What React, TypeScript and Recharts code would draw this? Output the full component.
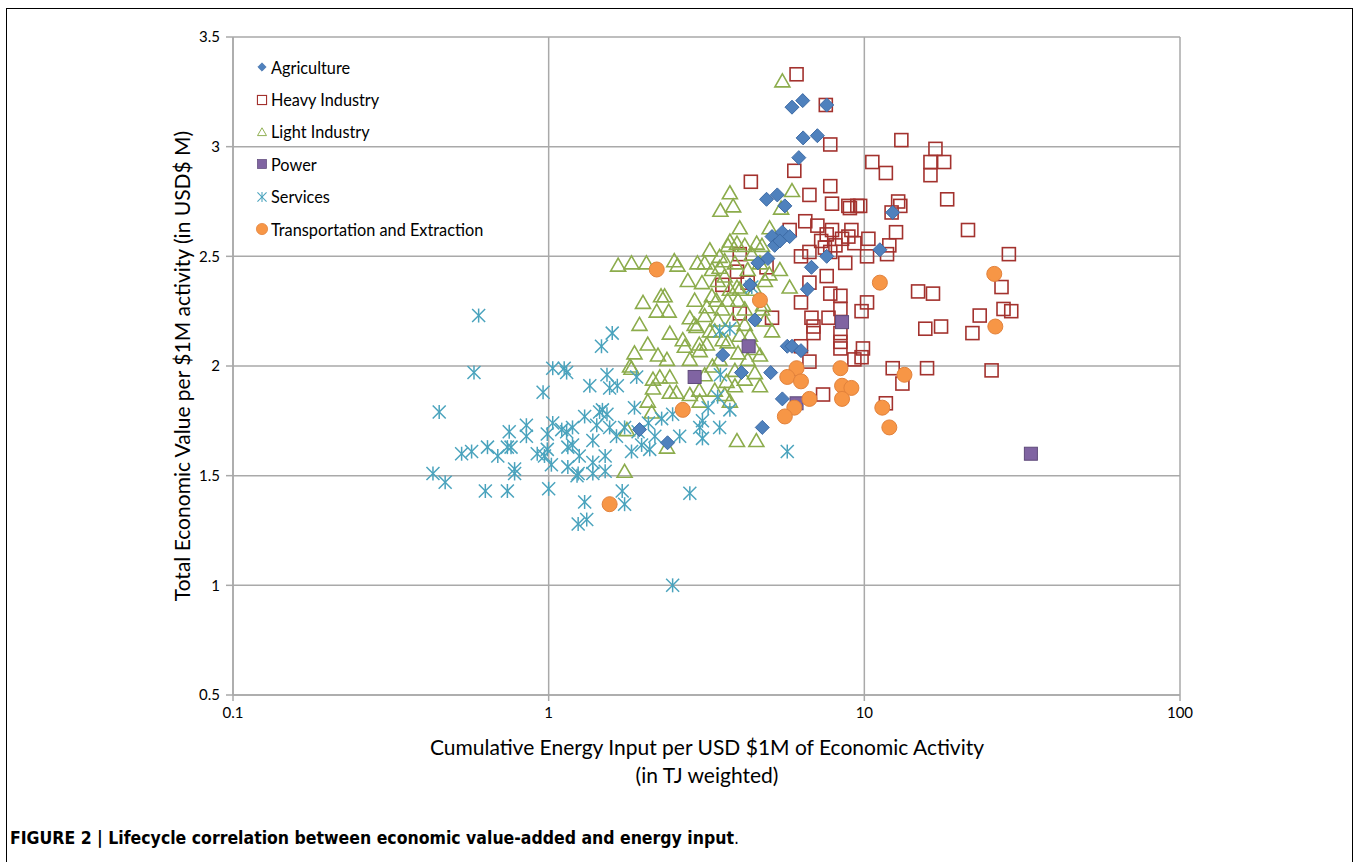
import React from 'react';
import { ScatterChart, Scatter, XAxis, YAxis, CartesianGrid } from 'recharts';

// values: [energy input (TJ), economic value (USD M)]
const agriculture: [number, number][] = [
  [6.38, 3.21], [5.9, 3.18], [7.6, 3.19], [6.4, 3.04], [7.1, 3.05], [6.2, 2.95], [4.9, 2.76], [5.3, 2.78],
  [5.6, 2.73], [12.3, 2.7], [5.1, 2.59], [5.5, 2.61], [5.8, 2.59], [5.2, 2.55], [4.95, 2.49], [5.4, 2.57],
  [11.2, 2.53], [7.6, 2.5], [6.8, 2.45], [4.34, 2.37], [6.6, 2.35], [4.5, 2.21], [5.7, 2.09], [5.9, 2.09],
  [6.3, 2.07], [3.56, 2.05], [4.08, 1.97], [5.05, 1.97], [5.5, 1.85], [4.75, 1.72], [2.38, 1.65], [1.94, 1.71],
  [4.6, 2.47],
];

const heavyIndustry: [number, number][] = [
  [6.1, 3.33], [7.55, 3.19], [13.1, 3.03], [16.8, 2.99], [10.6, 2.93], [11.7, 2.88], [16.2, 2.93], [17.9, 2.93],
  [16.2, 2.87], [18.3, 2.76], [12.8, 2.75], [13.0, 2.73], [12.2, 2.7], [21.3, 2.62], [12.6, 2.61], [28.7, 2.51],
  [27.2, 2.36], [14.8, 2.34], [16.5, 2.33], [8.9, 2.73], [9.7, 2.73], [9.1, 2.62], [10.3, 2.58], [10.2, 2.5],
  [11.8, 2.51], [23.2, 2.23], [27.6, 2.26], [29.2, 2.25], [15.6, 2.17], [17.5, 2.18], [22.0, 2.15], [12.3, 1.99],
  [15.8, 1.99], [25.3, 1.98], [13.2, 1.92], [11.7, 1.83], [6.0, 2.89], [4.37, 2.84], [6.7, 2.78], [7.8, 2.82],
  [7.9, 2.74], [9.0, 2.72], [6.5, 2.66], [7.1, 2.64], [7.9, 2.62], [7.3, 2.57], [8.5, 2.58], [6.7, 2.52],
  [7.8, 2.52], [8.7, 2.47], [6.3, 2.5], [4.03, 2.51], [4.27, 2.38], [4.9, 2.45], [6.7, 2.38], [7.6, 2.41],
  [7.8, 2.33], [8.4, 2.32], [6.3, 2.29], [6.8, 2.22], [7.7, 2.22], [8.4, 2.26], [10.2, 2.29], [9.8, 2.25],
  [6.9, 2.18], [6.9, 2.15], [8.4, 2.15], [8.4, 2.11], [8.4, 2.08], [6.3, 2.09], [9.9, 2.08], [9.8, 2.04],
  [9.3, 2.03], [6.7, 2.02], [5.1, 2.22], [4.03, 2.24], [7.4, 1.87], [3.55, 2.37], [3.95, 2.43], [7.6, 2.6],
  [8.1, 2.55], [5.8, 2.62], [9.3, 2.56], [8.9, 2.59], [12.0, 2.55], [7.5, 2.54], [9.5, 2.73], [7.8, 3.01],
];

const lightIndustry: [number, number][] = [
  [5.5, 3.3], [5.9, 2.8], [3.75, 2.79], [3.5, 2.71], [3.84, 2.73], [5.45, 2.72], [1.83, 2.47], [2.04, 2.47],
  [2.5, 2.48], [2.56, 2.46], [2.96, 2.47], [1.66, 2.46], [2.33, 2.32], [1.99, 2.29], [2.2, 2.25], [2.4, 2.25],
  [1.94, 2.19], [2.42, 2.15], [2.06, 2.1], [2.22, 2.05], [1.87, 2.06], [1.81, 2.0], [2.37, 2.03], [2.7, 2.09],
  [2.8, 2.22], [2.94, 2.18], [3.17, 2.27], [3.24, 2.16], [3.56, 2.12], [3.7, 2.55], [3.95, 2.56], [4.56, 2.56],
  [3.48, 2.45], [3.95, 2.36], [3.4, 2.3], [3.0, 2.1], [3.3, 2.0], [2.25, 1.95], [2.42, 1.95], [2.14, 1.94],
  [2.54, 1.88], [3.0, 1.89], [3.66, 1.93], [4.67, 1.91], [5.0, 2.42], [5.4, 2.44], [5.8, 2.36], [4.78, 2.28],
  [5.1, 2.16], [1.83, 1.99], [2.14, 1.9], [2.42, 1.88], [2.06, 1.84], [2.12, 1.79], [1.77, 1.71], [2.37, 1.63],
  [1.74, 1.52], [3.95, 1.66], [4.55, 1.66], [3.75, 1.84], [2.27, 2.32], [3.12, 2.47], [3.29, 2.44], [3.43, 2.39],
  [3.61, 2.41], [3.75, 2.35], [3.98, 2.3], [4.18, 2.26], [3.29, 2.32], [3.54, 2.26], [3.82, 2.21], [4.18, 2.19],
  [4.34, 2.14], [3.12, 2.23], [3.36, 2.16], [3.69, 2.11], [3.98, 2.06], [4.27, 2.03], [4.5, 2.08], [4.74, 2.26],
  [4.84, 2.21], [3.06, 2.38], [2.9, 2.3], [2.76, 2.39], [3.24, 2.53], [3.48, 2.5], [3.89, 2.47], [4.27, 2.44],
  [4.4, 2.51], [4.74, 2.55], [5.01, 2.63], [4.03, 2.63], [3.75, 2.57], [2.66, 2.12], [2.8, 2.03], [3.12, 1.96],
  [3.48, 2.03], [3.89, 1.98], [4.5, 1.97], [3.89, 1.91], [3.61, 1.87], [3.36, 1.89], [3.01, 1.84], [3.69, 2.3],
  [4.03, 2.35], [3.43, 2.21], [4.03, 2.14], [4.5, 2.35], [4.84, 2.39], [4.18, 2.55], [4.67, 2.47], [3.61, 2.48],
  [2.9, 2.19], [3.17, 2.1], [4.18, 1.94], [4.67, 2.05], [2.8, 1.87], [3.01, 2.07],
];

const power: [number, number][] = [
  [2.9, 1.95], [4.3, 2.09], [8.5, 2.2], [6.1, 1.83], [33.7, 1.6],
];

const services: [number, number][] = [
  [0.6, 2.23], [0.58, 1.97], [0.45, 1.79], [1.03, 1.99], [1.12, 1.99], [1.14, 1.97], [0.96, 1.88], [1.35, 1.91],
  [1.53, 1.96], [1.56, 1.9], [1.59, 2.15], [1.47, 2.09], [1.3, 1.77], [1.45, 1.79], [1.53, 1.78], [1.42, 1.73],
  [1.56, 1.72], [1.64, 1.68], [0.85, 1.73], [0.75, 1.7], [0.85, 1.68], [0.99, 1.69], [1.03, 1.74], [1.14, 1.7],
  [1.19, 1.72], [0.64, 1.63], [0.57, 1.61], [0.69, 1.59], [0.74, 1.63], [0.76, 1.63], [0.99, 1.62], [1.15, 1.63],
  [1.25, 1.59], [1.38, 1.56], [1.51, 1.59], [0.97, 1.59], [1.02, 1.55], [1.15, 1.54], [1.23, 1.5], [1.38, 1.51],
  [1.51, 1.52], [0.78, 1.53], [0.78, 1.51], [0.43, 1.51], [0.47, 1.47], [0.63, 1.43], [0.74, 1.43], [1.0, 1.44],
  [1.65, 1.91], [1.9, 1.95], [1.87, 1.81], [1.48, 1.8], [1.74, 1.72], [1.38, 1.66], [1.19, 1.64], [1.83, 1.61],
  [1.97, 1.64], [2.09, 1.62], [2.6, 1.68], [2.28, 1.76], [2.17, 1.68], [3.01, 1.72], [3.07, 1.67], [3.48, 1.72],
  [3.07, 1.75], [3.2, 1.81], [3.75, 1.8], [3.43, 1.86], [2.47, 1.78], [1.24, 1.51], [1.71, 1.43], [1.74, 1.37],
  [1.3, 1.38], [1.24, 1.28], [1.32, 1.3], [2.8, 1.42], [2.47, 1.0], [5.7, 1.61], [3.75, 2.17], [3.5, 1.96],
  [2.07, 1.74], [1.92, 1.7], [0.92, 1.6], [1.1, 1.71], [0.53, 1.6], [4.4, 2.36], [3.48, 2.16],
];

const transportation: [number, number][] = [
  [2.2, 2.44], [4.67, 2.3], [11.2, 2.38], [6.1, 1.99], [5.7, 1.95], [6.3, 1.93], [8.4, 1.99], [8.5, 1.91],
  [9.1, 1.9], [8.5, 1.85], [6.7, 1.85], [6.0, 1.81], [5.6, 1.77], [11.4, 1.81], [12.0, 1.72], [13.4, 1.96],
  [25.8, 2.42], [26.0, 2.18], [2.66, 1.8], [1.56, 1.37],
];

const xTicks = [0.1, 1, 10, 100];
const yTicks = [0.5, 1, 1.5, 2, 2.5, 3, 3.5];

const toPts = (a: [number, number][]) => a.map(([x, y]) => ({ x, y }));

const FONT = 'Lato, "Open Sans", sans-serif';

const Diamond = ({ cx, cy }: any) => (
  <polygon points={`${cx},${cy - 7} ${cx + 7},${cy} ${cx},${cy + 7} ${cx - 7},${cy}`} fill="#4f81bd" stroke="#3c6aa5" strokeWidth={1} />
);
const OpenSquare = ({ cx, cy }: any) => (
  <rect x={cx - 6.5} y={cy - 6.5} width={13} height={13} fill="none" stroke="#a3322e" strokeWidth={1.6} />
);
const OpenTriangle = ({ cx, cy }: any) => (
  <polygon points={`${cx},${cy - 7} ${cx + 7.5},${cy + 6} ${cx - 7.5},${cy + 6}`} fill="none" stroke="#8cac4c" strokeWidth={1.6} />
);
const PurpleSquare = ({ cx, cy }: any) => (
  <rect x={cx - 6.5} y={cy - 6.5} width={13} height={13} fill="#8064a2" stroke="#5e4a7a" strokeWidth={1} />
);
const Star = ({ cx, cy }: any) => (
  <g stroke="#4aa3bd" strokeWidth={1.5}>
    <line x1={cx - 6.5} y1={cy - 6.5} x2={cx + 6.5} y2={cy + 6.5} />
    <line x1={cx - 6.5} y1={cy + 6.5} x2={cx + 6.5} y2={cy - 6.5} />
    <line x1={cx} y1={cy - 7} x2={cx} y2={cy + 7} />
  </g>
);
const Dot = ({ cx, cy }: any) => <circle cx={cx} cy={cy} r={7.5} fill="#f79646" stroke="#e2823c" strokeWidth={1} />;

const legendItems = [
  { name: 'Agriculture', Shape: Diamond, s: 0.6 },
  { name: 'Heavy Industry', Shape: OpenSquare, s: 0.7 },
  { name: 'Light Industry', Shape: OpenTriangle, s: 0.6 },
  { name: 'Power', Shape: PurpleSquare, s: 0.7 },
  { name: 'Services', Shape: Star, s: 0.7 },
  { name: 'Transportation and Extraction', Shape: Dot, s: 0.75 },
];

const XTitle = () => (
  <g fontFamily={FONT} fontSize={21} fill="#000" textAnchor="middle">
    <text x={707} y={755}>Cumulative Energy Input per USD $1M of Economic Activity</text>
    <text x={707} y={783}>(in TJ weighted)</text>
  </g>
);

const YTitle = () => (
  <text x={190} y={366} transform="rotate(-90 190 366)" fontFamily={FONT} fontSize={21} fill="#000" textAnchor="middle">
    Total Economic Value per $1M activity (in USD$ M)
  </text>
);

export default function App() {
  const tick = { fontFamily: FONT, fontSize: 15, fill: '#000' };
  return (
    <div style={{ position: 'absolute', left: 0, top: 0, width: 1354, height: 862, background: '#fff', overflow: 'hidden' }}>
      <div style={{ position: 'absolute', left: 6, top: 8, width: 1, height: 854, background: '#000' }} />
      <div style={{ position: 'absolute', left: 1352, top: 8, width: 1, height: 854, background: '#000' }} />
      <div style={{ position: 'absolute', left: 6, top: 8, width: 1347, height: 1, background: '#000' }} />
      <div style={{ position: 'absolute', left: 0, top: 0 }}>
        <ScatterChart width={1354} height={862} margin={{ top: 37, right: 174, left: 173, bottom: 137 }}>
          <CartesianGrid stroke="#a9a9a9" strokeWidth={1.5} horizontalValues={yTicks} verticalValues={xTicks} />
          <XAxis
            type="number"
            dataKey="x"
            scale="log"
            domain={[0.1, 100]}
            ticks={xTicks}
            allowDataOverflow
            height={30}
            stroke="#a9a9a9"
            strokeWidth={1.5}
            tickSize={6}
            tickMargin={6}
            tick={tick}
            tickFormatter={(v: number) => String(v)}
            label={{ content: () => <XTitle /> }}
          />
          <YAxis
            type="number"
            dataKey="y"
            domain={[0.5, 3.5]}
            ticks={yTicks}
            allowDataOverflow
            width={60}
            stroke="#a9a9a9"
            strokeWidth={1.5}
            tickSize={7}
            tickMargin={6}
            tick={tick}
            tickFormatter={(v: number) => String(v)}
            label={{ content: () => <YTitle /> }}
          />
          <Scatter name="Heavy Industry" data={toPts(heavyIndustry)} shape={OpenSquare} isAnimationActive={false} />
          <Scatter name="Light Industry" data={toPts(lightIndustry)} shape={OpenTriangle} isAnimationActive={false} />
          <Scatter name="Services" data={toPts(services)} shape={Star} isAnimationActive={false} />
          <Scatter name="Agriculture" data={toPts(agriculture)} shape={Diamond} isAnimationActive={false} />
          <Scatter name="Power" data={toPts(power)} shape={PurpleSquare} isAnimationActive={false} />
          <Scatter name="Transportation and Extraction" data={toPts(transportation)} shape={Dot} isAnimationActive={false} />
        </ScatterChart>
      </div>
      <div style={{ position: 'absolute', left: 255, top: 51, fontFamily: FONT, fontSize: 16.3, color: '#000' }}>
        {legendItems.map(({ name, Shape, s }) => (
          <div key={name} style={{ height: 32.4, display: 'flex', alignItems: 'center' }}>
            <svg width={14} height={14} style={{ marginRight: 2 }}>
              <g transform={`translate(7,7) scale(${s})`}>
                <Shape cx={0} cy={0} />
              </g>
            </svg>
            <span>{name}</span>
          </div>
        ))}
      </div>
      <div
        style={{
          position: 'absolute',
          left: 10,
          top: 828,
          fontFamily: '"Liberation Sans Narrow", "DejaVu Sans Condensed", sans-serif',
          fontSize: 17.5,
          color: '#000',
          whiteSpace: 'nowrap',
        }}
      >
        <b>FIGURE 2 | Lifecycle correlation between economic value-added and energy input</b>.
      </div>
    </div>
  );
}
